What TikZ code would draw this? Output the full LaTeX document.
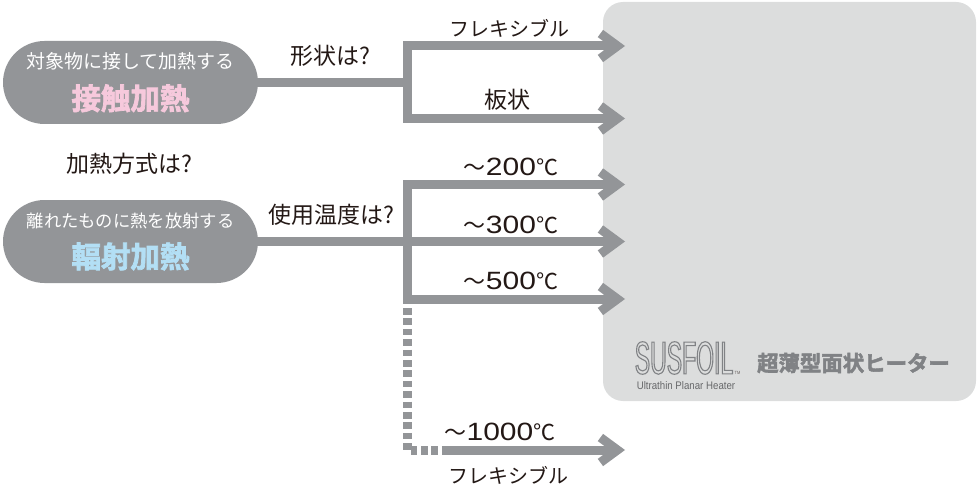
\documentclass[tikz,border=0pt]{standalone}
\usepackage{fontspec}
\usepackage{xcolor}
\usetikzlibrary{shapes.misc,arrows.meta,positioning,calc}
\setmainfont{Noto Sans CJK JP}
\newfontfamily\heavyfont[FakeBold=2.5]{Noto Sans CJK JP Bold}
\newfontfamily\digitfont[FakeStretch=1.2]{Liberation Sans}
\newfontfamily\logofont[FakeStretch=0.5]{Liberation Sans}
\newfontfamily\subfont[FakeStretch=0.88]{Liberation Sans}
\newcommand{\fs}[1]{\fontsize{#1}{#1}\selectfont}
\newcommand{\tempval}[1]{～{\digitfont\fs{25}#1}℃}
\definecolor{bargray}{HTML}{939598}
\definecolor{panelgray}{HTML}{DCDDDD}
\definecolor{inkcol}{HTML}{231815}
\definecolor{logogray}{HTML}{808285}
\definecolor{contactcol}{HTML}{F6C9DC}
\definecolor{radiantcol}{HTML}{B3DFF5}

\begin{document}
\begin{tikzpicture}[x=1pt,y=-1pt,
  pill/.style={rounded rectangle,fill=bargray,minimum width=255pt,minimum height=83pt,inner sep=0pt,align=center,text=white},
  lbl/.style={text=inkcol,inner sep=0pt,font=\fs{23}},
  bar/.style={draw=bargray,line width=9pt},
  arr/.style={bar,-{Straight Barb[line width=9pt,length=17pt,width=25pt]}}]
  \useasboundingbox (0,0) rectangle (980,500);
  \node[fill=panelgray,rounded corners=20pt,minimum width=373pt,minimum height=399pt,inner sep=0pt] (foil) at (789.5,201.5) {};
  \node[pill] (contact) at (130.5,82.5) {\fs{19}対象物に接して加熱する\\[13pt]\textcolor{contactcol}{\heavyfont\fs{29.5}接触加熱}};
  \node[pill] (radiant) at (130.5,241.5) {\fs{17.3}離れたものに熱を放射する\\[13pt]\textcolor{radiantcol}{\heavyfont\fs{29.5}輻射加熱}};
  % forks
  \coordinate (shapefork) at (407,82.5);
  \coordinate (tempfork) at (407,241.5);
  \coordinate (flextip) at (625,46);
  \coordinate (platetip) at (625,118.5);
  \coordinate (t200tip) at (625,184.5);
  \coordinate (t300tip) at (625,241.5);
  \coordinate (t500tip) at (625,299);
  \coordinate (t1000tip) at (625,450);
  \coordinate (dotstart) at (407,308);
  \coordinate (dotend) at (446,450);
  \draw[bar] (contact.east)--(shapefork);
  \draw[bar] (radiant.east)--(tempfork);
  \draw[arr] (shapefork)|-(flextip);
  \draw[arr] (shapefork)|-(platetip);
  \draw[arr] (tempfork)|-(t200tip);
  \draw[arr] (tempfork)--(t300tip);
  \draw[arr] (tempfork)|-(t500tip);
  \draw[bar,dash pattern=on 6.6pt off 3.8pt] (dotstart)|-(dotend);
  \draw[arr] (dotend)--(t1000tip);
  % labels
  \node[lbl] (shapeq) at (330.5,56) {形状は?};
  \node[lbl] (methodq) at (129,164) {加熱方式は?};
  \node[lbl] (tempq) at (331,215) {使用温度は?};
  \node[lbl,font=\fs{20}] (flexa) at (509.5,28) {フレキシブル};
  \node[lbl] (plate) at (507,100) {板状};
  \node[lbl,font=\fs{22}] (t200) at (511,167) {\tempval{200}};
  \node[lbl,font=\fs{22}] (t300) at (511,225) {\tempval{300}};
  \node[lbl,font=\fs{22}] (t500) at (511,281) {\tempval{500}};
  \node[lbl,font=\fs{22}] (t1000) at (500,432) {\tempval{1000}};
  \node[lbl,font=\fs{20}] (flexb) at (508,475) {フレキシブル};
  % logo
  \node[inner sep=0pt,text=logogray,font=\logofont\fs{46}] (susfoil) at (684,358) {\special{pdf:code q 1 Tr 1.1 w}SUSFOIL\special{pdf:code Q}};
  \node[inner sep=0pt,text=inkcol!70,font=\subfont\fs{4.5},right=1pt of susfoil.south east,anchor=south west] (tm) {TM};
  \node[inner sep=0pt,text=logogray!80!black,font=\subfont\fs{11}] (ultra) at (686,386) {Ultrathin Planar Heater};
  \node[inner sep=0pt,text=logogray,font=\heavyfont\fs{21.4}] (foilname) at (853.5,363) {超薄型面状ヒーター};
\end{tikzpicture}
\end{document}
